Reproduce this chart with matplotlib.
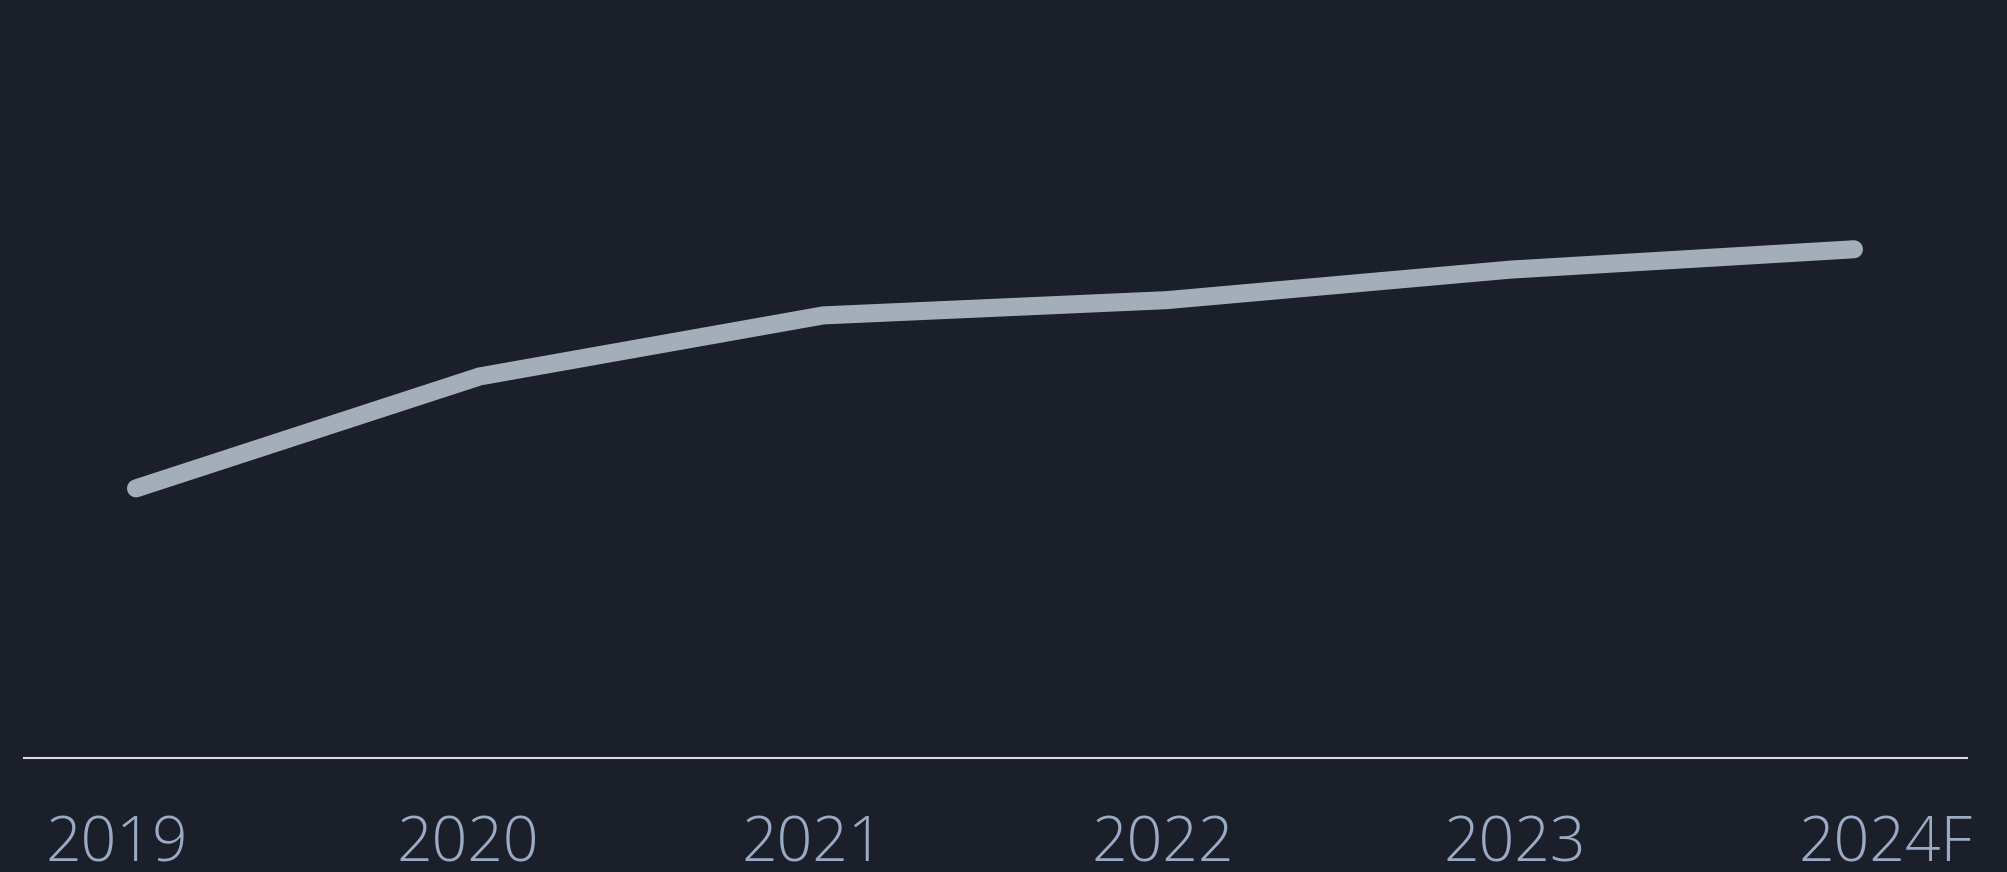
import matplotlib
matplotlib.use("Agg")
import matplotlib.pyplot as plt
from matplotlib.transforms import ScaledTranslation

YEARS = ["2019", "2020", "2021", "2022", "2023", "2024F"]
VALUES = [53, 75, 87, 90, 96, 100]

BG = "#1b1f2a"
LINE = "#a4aebb"
LABEL = "#9aabc6"

# horizontal nudges of the year labels, in pixels
LABEL_NUDGE = [-19, -12, -10, -4, 4, 31]


def main():
    plt.rcParams["font.family"] = ["Open Sans", "DejaVu Sans"]
    fig = plt.figure(figsize=(20.08, 8.72), dpi=100, facecolor=BG)
    ax = fig.add_axes([24 / 2008, 114 / 872, 1943 / 2008, 758 / 872])
    ax.set_facecolor(BG)

    xs = list(range(len(YEARS)))
    ax.plot(xs, VALUES, color=LINE, linewidth=13, solid_capstyle="round",
            solid_joinstyle="miter")

    ax.set_xlim(-0.326, 5.329)
    ax.set_ylim(0, 149)
    ax.set_xticks(xs)
    ax.set_xticklabels(YEARS, fontsize=45, color=LABEL, fontweight="light")
    ax.tick_params(axis="x", length=0, pad=40)
    ax.set_yticks([])
    for lab, dx in zip(ax.get_xticklabels(), LABEL_NUDGE):
        lab.set_transform(lab.get_transform() + ScaledTranslation(dx / 100, 0, fig.dpi_scale_trans))

    for side in ["top", "right", "left"]:
        ax.spines[side].set_visible(False)
    ax.spines["bottom"].set_color("#d8dade")
    ax.spines["bottom"].set_linewidth(1.5)

    fig.savefig("out.png", dpi=100, facecolor=BG)


if __name__ == "__main__":
    main()
